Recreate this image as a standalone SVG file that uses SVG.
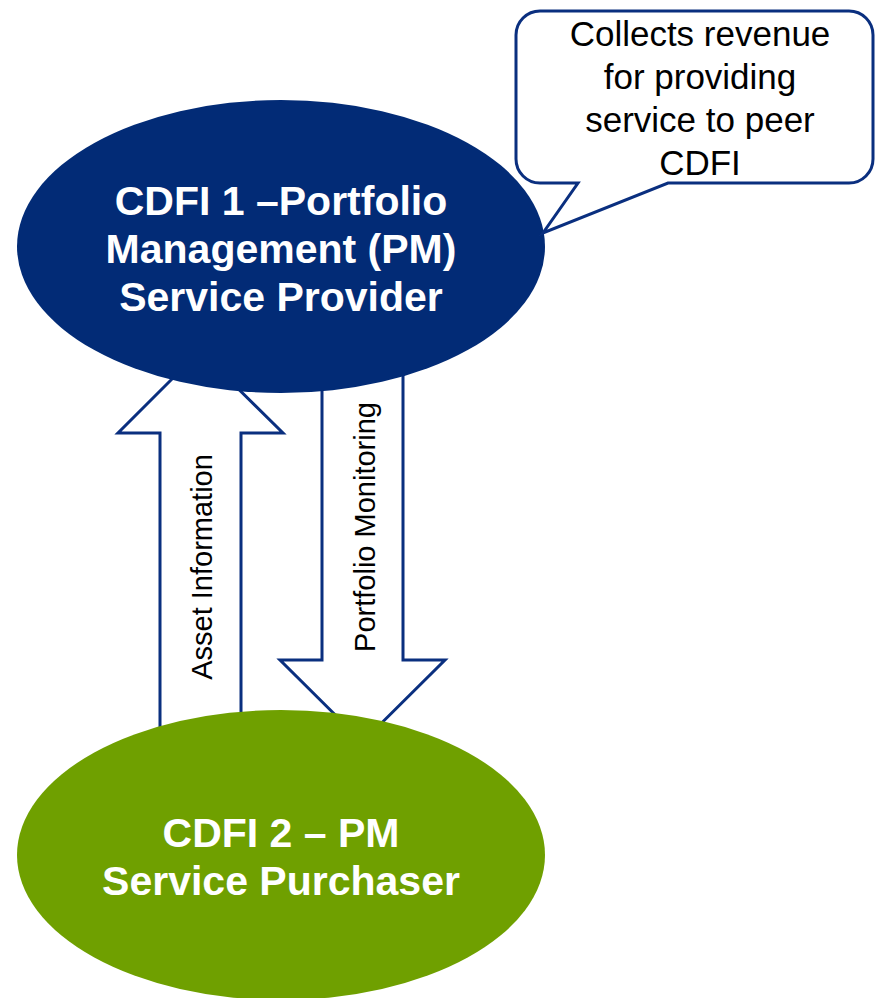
<svg xmlns="http://www.w3.org/2000/svg" width="875" height="998" viewBox="0 0 875 998">
<style>
.arrow{fill:#ffffff;stroke:#0a2f7f;stroke-width:3;stroke-linejoin:miter}
.node-text{font-family:"Liberation Sans",Arial,sans-serif;font-weight:bold;font-size:41px;fill:#ffffff;text-anchor:middle}
.label{font-family:"Liberation Sans",Arial,sans-serif;font-size:29px;fill:#000000;text-anchor:middle}
.callout-text{font-family:"Liberation Sans",Arial,sans-serif;font-size:35px;fill:#000000;text-anchor:middle}
</style>
<rect width="875" height="998" fill="#ffffff"/>
<g id="connectors">
  <polygon class="arrow" points="160,760 160,433 118,433 200,351 283,433 241,433 241,760"/>
  <polygon class="arrow" points="322,360 322,660 280,660 362.5,742 445,660 403,660 403,360"/>
  <text class="label" transform="translate(212,567) rotate(-90)">Asset Information</text>
  <text class="label" transform="translate(375,527) rotate(-90)">Portfolio Monitoring</text>
</g>
<g id="provider">
  <ellipse cx="281" cy="246.5" rx="264" ry="146.5" fill="#022b76"/>
  <text class="node-text" x="281" y="215">CDFI 1 –Portfolio</text>
  <text class="node-text" x="281" y="263">Management (PM)</text>
  <text class="node-text" x="281" y="311">Service Provider</text>
</g>
<g id="purchaser">
  <ellipse cx="281" cy="855" rx="264" ry="145" fill="#6fa000"/>
  <text class="node-text" x="281" y="847">CDFI 2 – PM</text>
  <text class="node-text" x="281" y="895">Service Purchaser</text>
</g>
<g id="callout">
  <path d="M 540 11 H 849 A 24 24 0 0 1 873 35 V 159 A 24 24 0 0 1 849 183 H 668 L 543 233 L 578 183 H 540 A 24 24 0 0 1 516 159 V 35 A 24 24 0 0 1 540 11 Z" fill="#ffffff" stroke="#0a2f7f" stroke-width="3"/>
  <text class="callout-text" x="700" y="46">Collects revenue</text>
  <text class="callout-text" x="700" y="89">for providing</text>
  <text class="callout-text" x="700" y="132">service to peer</text>
  <text class="callout-text" x="700" y="175">CDFI</text>
</g>
</svg>
